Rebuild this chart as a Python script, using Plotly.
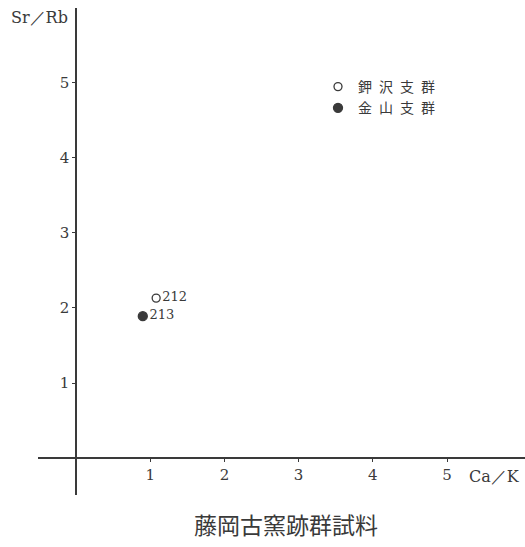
import plotly.graph_objects as go

# ---- data ----
group_names = ["鉀\u2002沢\u2002支\u2002群", "金\u2002山\u2002支\u2002群"]
ca_k = [1.08, 0.90]          # x values (Ca/K)
sr_rb = [2.13, 1.89]         # y values (Sr/Rb)
sample_labels = ["212", "213"]
tick_values = [1, 2, 3, 4, 5]
tick_labels = ["1", "2", "3", "4", "5"]
x_title = "Ca／K"
y_title = "Sr／Rb"
chart_title = "藤岡古窯跡群試料"

INK = "#3a3a3a"
SERIF = "DejaVu Serif, Liberation Serif, serif"
CJK = "Noto Sans CJK JP, sans-serif"

W, H = 525, 547
ML, MR, MT, MB = 38, 0, 8, 52
PW = W - ML - MR
PH = H - MT - MB
xr = [-0.512, 6.05]
yr = [-0.49, 5.99]


def px_x(px):  # window pixel -> paper x
    return (px - ML) / PW


def px_y(py):  # window pixel -> paper y
    return (H - MB - py) / PH


fig = go.Figure()
symbols = ["circle-open", "circle"]
for i in range(2):
    fig.add_trace(go.Scatter(
        x=[ca_k[i]], y=[sr_rb[i]],
        mode="markers+text",
        name=group_names[i],
        text=[sample_labels[i]],
        textposition="middle right",
        textfont=dict(family=SERIF, size=13, color=INK),
        marker=dict(symbol=symbols[i], size=8 if i == 0 else 9,
                    color=INK, line=dict(color=INK, width=1.3)),
        hoverinfo="skip",
    ))

xpos = -yr[0] / (yr[1] - yr[0])
ypos = -xr[0] / (xr[1] - xr[0])

fig.update_layout(
    width=W, height=H,
    margin=dict(l=ML, r=MR, t=MT, b=MB),
    paper_bgcolor="white", plot_bgcolor="white",
    showlegend=True,
    legend=dict(
        x=px_x(318), y=px_y(71),
        xanchor="left", yanchor="top",
        font=dict(family=CJK, size=14, color=INK),
        bgcolor="rgba(0,0,0,0)", itemwidth=30, tracegroupgap=0,
    ),
    title=dict(text=chart_title, x=286 / W, y=1 - 526 / H,
               xanchor="center", yanchor="middle",
               font=dict(family=CJK, size=23, color=INK)),
    xaxis=dict(range=xr, anchor="free", position=xpos,
               showline=True, linecolor=INK, linewidth=1.5,
               showgrid=False, zeroline=False,
               ticks="outside", ticklen=3, tickcolor=INK, tickwidth=1,
               tickvals=tick_values, ticktext=tick_labels,
               tickfont=dict(family=SERIF, size=15, color=INK)),
    yaxis=dict(range=yr, anchor="free", position=ypos,
               showline=True, linecolor=INK, linewidth=1.5,
               showgrid=False, zeroline=False,
               ticks="outside", ticklen=3, tickcolor=INK, tickwidth=1,
               tickvals=tick_values, ticktext=tick_labels,
               tickfont=dict(family=SERIF, size=15, color=INK)),
    annotations=[
        dict(text=x_title, x=5.27, y=-0.25, xref="x", yref="y",
             xanchor="left", yanchor="middle", showarrow=False,
             font=dict(family=SERIF, size=16, color=INK)),
        dict(text=y_title, x=px_x(9), y=px_y(18), xref="paper", yref="paper",
             xanchor="left", yanchor="middle", showarrow=False,
             font=dict(family=SERIF, size=16, color=INK)),
    ],
)

fig.write_html(
    "out.html",
    config={"displayModeBar": False},
    post_script="document.body.style.margin='0';document.body.style.overflow='hidden';",
)
